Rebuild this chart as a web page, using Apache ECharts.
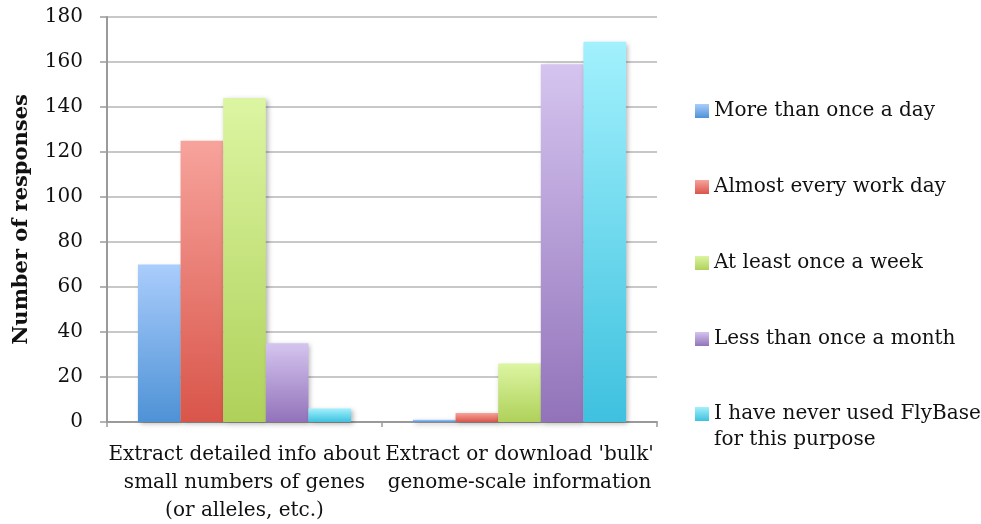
<!DOCTYPE html>
<html>
<head>
<meta charset="utf-8">
<script src="https://cdn.jsdelivr.net/npm/echarts@6/dist/echarts.min.js"></script>
<style>
  html, body { margin: 0; padding: 0; background: #fff; }
  #chart { width: 981px; height: 524px; }
</style>
</head>
<body>
<div id="chart"></div>
<script>
const categories = [
  'Extract detailed info about\nsmall numbers of genes\n(or alleles, etc.)',
  "Extract or download 'bulk'\ngenome-scale information",
];
const seriesNames = [
  'More than once a day',
  'Almost every work day',
  'At least once a week',
  'Less than once a month',
  'I have never used FlyBase\nfor this purpose',
];
const moreThanDaily = [70, 1];
const almostEveryDay = [125, 4];
const weekly = [144, 26];
const lessThanMonthly = [35, 159];
const neverUsed = [6, 169];
const yTicks = { min: 0, max: 180, interval: 20 };

// top / bottom colours of each bar gradient
const gradients = [
  ['#aacdfc', '#4e92d6'],
  ['#f7a39c', '#d9554a'],
  ['#dcf5a2', '#afd15a'],
  ['#d5c4ef', '#9273ba'],
  ['#a2f1fd', '#3ec1df'],
];

const font = '"DejaVu Serif", "Liberation Serif", serif';
const chart = echarts.init(document.getElementById('chart'));

function grad(pair) {
  return new echarts.graphic.LinearGradient(0, 0, 0, 1, [
    { offset: 0, color: pair[0] },
    { offset: 1, color: pair[1] },
  ]);
}

const values = [moreThanDaily, almostEveryDay, weekly, lessThanMonthly, neverUsed];

const legendBase = {
  orient: 'vertical',
  left: 695,
  padding: 0,
  itemGap: 50,
  itemWidth: 14,
  itemHeight: 14,
  icon: 'rect',
  textStyle: { fontFamily: font, fontSize: 20, color: '#111', lineHeight: 26 },
};

chart.setOption({
  animation: false,
  textStyle: { fontFamily: font },
  grid: { left: 107, right: 324, top: 17, bottom: 102, outerBoundsMode: 'none' },
  legend: [
    Object.assign({}, legendBase, { top: 98, data: seriesNames.slice(0, 4) }),
    // last entry: blank first line so the icon sits next to the first text line
    Object.assign({}, legendBase, {
      top: 375,
      data: seriesNames.slice(4),
      formatter: (name) => '\u00a0\n' + name,
    }),
  ],
  xAxis: {
    type: 'category',
    data: categories,
    axisLine: { lineStyle: { color: '#9a9a9a', width: 2 } },
    axisTick: { show: true, length: 5, lineStyle: { color: '#9a9a9a', width: 1.5 } },
    axisLabel: {
      color: '#111', fontSize: 20, fontFamily: font, lineHeight: 28, margin: 19,
      interval: 0,
    },
  },
  yAxis: {
    type: 'value',
    min: yTicks.min,
    max: yTicks.max,
    interval: yTicks.interval,
    name: 'Number of responses',
    nameLocation: 'middle',
    nameGap: 75,
    nameTextStyle: { fontFamily: font, fontSize: 21, fontWeight: 'bold', color: '#111' },
    axisLine: { show: true, lineStyle: { color: '#9a9a9a', width: 2 } },
    axisTick: { show: true, inside: false, length: 7, lineStyle: { color: '#9a9a9a', width: 1.5 } },
    axisLabel: { color: '#111', fontSize: 20, fontFamily: font, margin: 24 },
    splitLine: { lineStyle: { color: '#c8c8c8', width: 2 } },
  },
  series: seriesNames.map((n, i) => ({
    name: n,
    type: 'bar',
    data: values[i],
    barGap: '0%',
    barCategoryGap: '22.5%',
    itemStyle: {
      color: grad(gradients[i]),
      shadowColor: 'rgba(0,0,0,0.3)',
      shadowBlur: 5,
      shadowOffsetX: 2,
      shadowOffsetY: 2,
    },
  })),
});
</script>
</body>
</html>
